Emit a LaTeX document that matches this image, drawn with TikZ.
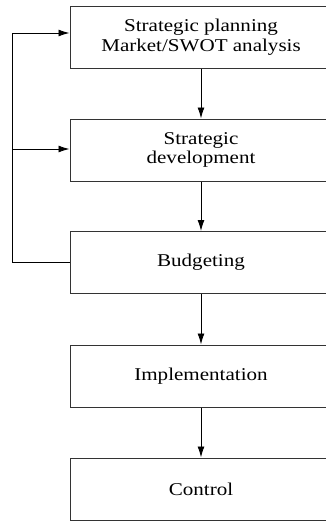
\documentclass[tikz,border=0pt]{standalone}
\usepackage{fontspec}
\setmainfont{Liberation Serif}[FakeStretch=1.17]
\usetikzlibrary{arrows.meta}
\begin{document}
\begin{tikzpicture}[x=1pt,y=-1pt,
  box/.style={draw=black!80,line width=1pt,minimum width=262pt,minimum height=62pt,inner sep=0pt,
    align=center,font=\fontsize{18}{19.5}\selectfont},
  conn/.style={-{Latex[length=11pt,width=7pt]},line width=0.9pt}]
\useasboundingbox (0,0) rectangle (326,522);
\clip (0,0) rectangle (326,522);
\node[box] (b1) at (201,37) {Strategic planning\\Market/SWOT analysis};
\node[box] (b2) at (201,150) {Strategic\\development};
\node[box] (b3) at (201,262.5) {Budgeting};
\node[box] (b4) at (201,376) {Implementation};
\node[box] (b5) at (201,489) {Control};
\draw[conn] (b1) -- (b2);
\draw[conn] (b2) -- (b3);
\draw[conn] (b3) -- (b4);
\draw[conn] (b4) -- (b5);
\coordinate (c2) at (12,33);
\coordinate (c3) at (12,149);
\draw[line width=0.9pt] (b3.west) -| (c2);
\draw[conn] (c2) -- (b1.west |- c2);
\draw[conn] (c3) -- (b2.west |- c3);
\end{tikzpicture}
\end{document}
